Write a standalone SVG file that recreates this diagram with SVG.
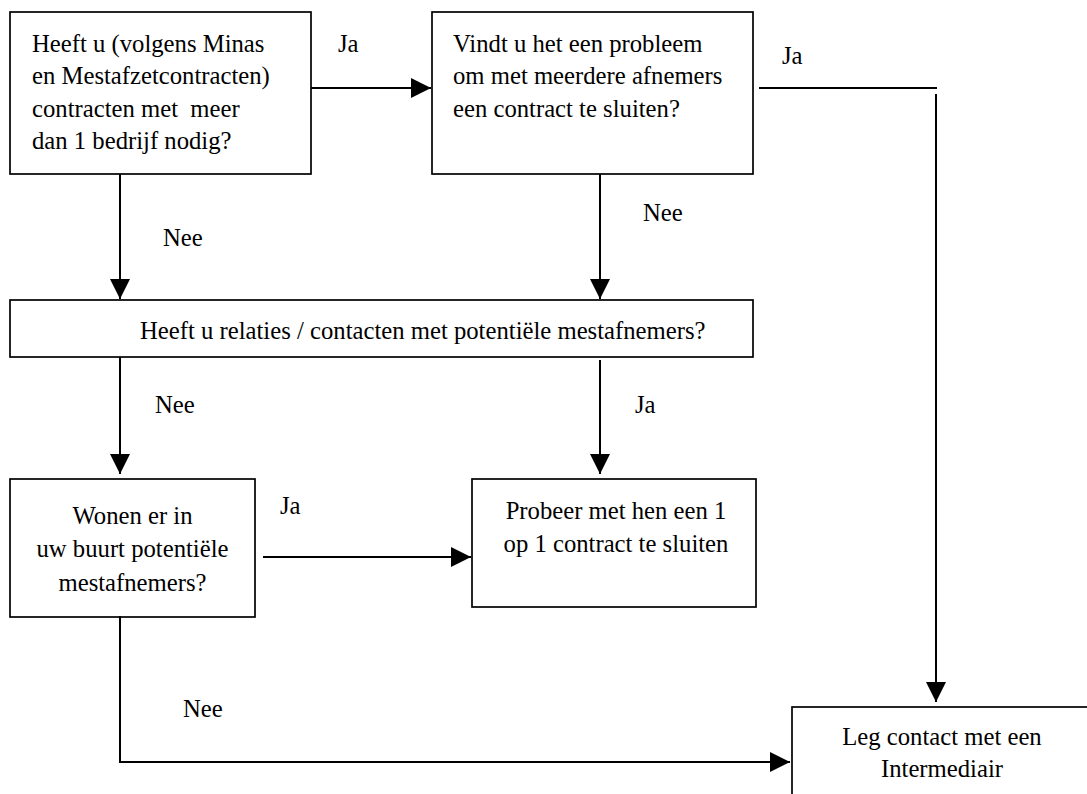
<svg xmlns="http://www.w3.org/2000/svg" width="1087" height="794" viewBox="0 0 1087 794">
<defs>
<marker id="ah" markerUnits="userSpaceOnUse" markerWidth="20" markerHeight="20" refX="20" refY="10" orient="auto">
<path d="M0,0 L20,10 L0,20 z" fill="#000"/>
</marker>
<style>
.box{fill:#fff;stroke:#000;stroke-width:1.7}
.t{font-family:"Liberation Serif","Times New Roman",serif;font-size:24.7px;fill:#000}
.c{text-anchor:middle}
.ln{fill:none;stroke:#000;stroke-width:2}
.ar{fill:none;stroke:#000;stroke-width:2;marker-end:url(#ah)}
</style>
</defs>
<rect width="1087" height="794" fill="#fff"/>
<g id="n1">
<rect class="box" x="10" y="12" width="301" height="162"/>
<text class="t" xml:space="preserve"><tspan x="32" y="52">Heeft u (volgens Minas</tspan><tspan x="32" y="84">en Mestafzetcontracten)</tspan><tspan x="32" y="117">contracten met  meer</tspan><tspan x="32" y="149">dan 1 bedrijf nodig?</tspan></text>
</g>
<g id="n2">
<rect class="box" x="432" y="12" width="321" height="162"/>
<text class="t"><tspan x="453" y="52">Vindt u het een probleem</tspan><tspan x="453" y="84">om met meerdere afnemers</tspan><tspan x="453" y="117">een contract te sluiten?</tspan></text>
</g>
<g id="n3">
<rect class="box" x="10" y="300" width="743" height="57"/>
<text class="t" x="140" y="339">Heeft u relaties / contacten met potentiële mestafnemers?</text>
</g>
<g id="n4">
<rect class="box" x="10" y="479" width="245" height="138"/>
<text class="t c"><tspan x="132.5" y="524">Wonen er in</tspan><tspan x="132.5" y="557">uw buurt potentiële</tspan><tspan x="132.5" y="591">mestafnemers?</tspan></text>
</g>
<g id="n5">
<rect class="box" x="472" y="479" width="284" height="128"/>
<text class="t c"><tspan x="616" y="519">Probeer met hen een 1</tspan><tspan x="616" y="552">op 1 contract te sluiten</tspan></text>
</g>
<g id="n6">
<rect class="box" x="792" y="707" width="310" height="110"/>
<text class="t c"><tspan x="942" y="745">Leg contact met een</tspan><tspan x="942" y="777">Intermediair</tspan></text>
</g>
<g id="connectors">
<line class="ar" x1="311" y1="88" x2="431" y2="88"/>
<line class="ln" x1="759" y1="88" x2="937" y2="88"/>
<line class="ar" x1="936" y1="94" x2="936" y2="702"/>
<line class="ar" x1="120" y1="174" x2="120" y2="299"/>
<line class="ar" x1="600" y1="174" x2="600" y2="299"/>
<line class="ar" x1="120" y1="357" x2="120" y2="474"/>
<line class="ar" x1="600" y1="360" x2="600" y2="474"/>
<line class="ar" x1="263" y1="557" x2="471" y2="557"/>
<polyline class="ar" points="120,616 120,762 790,762"/>
<text class="t" x="338" y="52">Ja</text>
<text class="t" x="782" y="64">Ja</text>
<text class="t" x="163" y="246">Nee</text>
<text class="t" x="643" y="221">Nee</text>
<text class="t" x="155" y="413">Nee</text>
<text class="t" x="635" y="413">Ja</text>
<text class="t" x="280" y="514">Ja</text>
<text class="t" x="183" y="717">Nee</text>
</g>
</svg>
